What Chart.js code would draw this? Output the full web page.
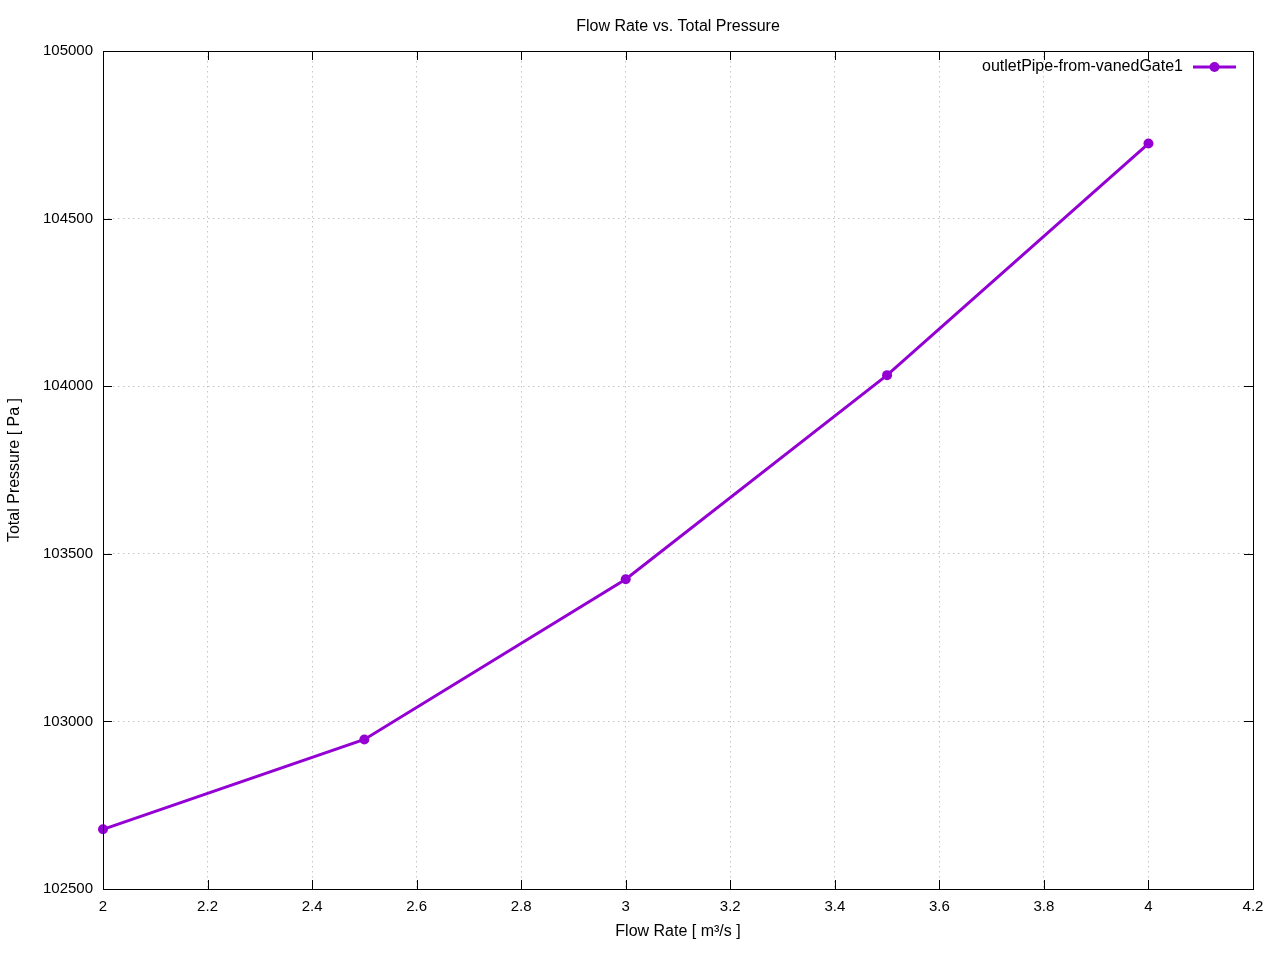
<!DOCTYPE html>
<html>
<head>
<meta charset="utf-8">
<title>Flow Rate vs. Total Pressure</title>
<script src="https://cdn.jsdelivr.net/npm/chart.js@4.4.1/dist/chart.umd.min.js"></script>
<style>
    html, body { margin: 0; padding: 0; background: #fff; }
    #wrap { width: 1280px; height: 960px; }
</style>
</head>
<body>
<div id="wrap"><canvas id="chart" width="1280" height="960"></canvas></div>
<script>
// Data
const flowRates = [2, 2.5, 3, 3.5, 4];
const totalPressure = [102678, 102946, 103424, 104033, 104724];
const seriesName = 'outletPipe-from-vanedGate1';

// Tick positions
const xTicks = [2, 2.2, 2.4, 2.6, 2.8, 3, 3.2, 3.4, 3.6, 3.8, 4, 4.2];
const yTicks = [102500, 103000, 103500, 104000, 104500, 105000];

const lineColor = '#9400d3';
const fontFamily = "'Liberation Sans', Arial, sans-serif";

// gnuplot-like frame: full border plus inward ticks on all four sides, and legend inside
const framePlugin = {
    id: 'frame',
    afterDraw(chart) {
        const { ctx, chartArea: a, scales } = chart;
        const tl = 9;
        ctx.save();
        ctx.strokeStyle = '#000';
        ctx.lineWidth = 1;
        ctx.beginPath();
        scales.x.ticks.forEach(t => {
            const px = Math.round(scales.x.getPixelForValue(t.value)) + 0.5;
            ctx.moveTo(px, a.bottom); ctx.lineTo(px, a.bottom - tl);
            ctx.moveTo(px, a.top); ctx.lineTo(px, a.top + tl);
        });
        scales.y.ticks.forEach(t => {
            const py = Math.round(scales.y.getPixelForValue(t.value)) + 0.5;
            ctx.moveTo(a.left, py); ctx.lineTo(a.left + tl, py);
            ctx.moveTo(a.right, py); ctx.lineTo(a.right - tl, py);
        });
        ctx.stroke();
        ctx.strokeRect(Math.round(a.left) + 0.5, Math.round(a.top) + 0.5,
            Math.round(a.right - a.left), Math.round(a.bottom - a.top));

        // legend
        const ly = a.top + 16;
        const lx1 = a.right - 60, lx2 = a.right - 17;
        ctx.font = '16px ' + fontFamily;
        ctx.fillStyle = '#000';
        ctx.textAlign = 'right';
        ctx.textBaseline = 'middle';
        ctx.fillText(seriesName, lx1 - 10, ly);
        ctx.strokeStyle = lineColor;
        ctx.lineWidth = 3;
        ctx.beginPath();
        ctx.moveTo(lx1, ly); ctx.lineTo(lx2, ly);
        ctx.stroke();
        ctx.fillStyle = lineColor;
        ctx.beginPath();
        ctx.arc((lx1 + lx2) / 2, ly, 5, 0, Math.PI * 2);
        ctx.fill();
        ctx.restore();
    }
};

const ctx = document.getElementById('chart').getContext('2d');

new Chart(ctx, {
    type: 'scatter',
    data: {
        datasets: [{
            label: seriesName,
            data: flowRates.map((x, i) => ({ x: x, y: totalPressure[i] })),
            showLine: true,
            clip: false,
            borderColor: lineColor,
            backgroundColor: lineColor,
            borderWidth: 3,
            pointRadius: 5,
            pointBorderWidth: 0,
            tension: 0
        }]
    },
    options: {
        responsive: false,
        animation: false,
        layout: { padding: { left: 0, right: 27, top: 0, bottom: 0 } },
        plugins: {
            legend: { display: false },
            tooltip: { enabled: false },
            title: {
                display: true,
                fullSize: false,
                text: 'Flow Rate vs. Total Pressure',
                color: '#000',
                font: { family: fontFamily, size: 16, weight: 'normal' },
                padding: { top: 17, bottom: 14.8 }
            }
        },
        scales: {
            x: {
                type: 'linear',
                min: 2,
                max: 4.2,
                afterFit(scale) { scale.height = 71; },
                afterBuildTicks(scale) { scale.ticks = xTicks.map(v => ({ value: v })); },
                ticks: {
                    color: '#000',
                    padding: 9,
                    maxRotation: 0,
                    autoSkip: false,
                    font: { family: fontFamily, size: 15 },
                    callback: v => String(v)
                },
                grid: {
                    color: 'rgba(150,150,150,0.55)',
                    lineWidth: 1,
                    drawTicks: false
                },
                border: { display: false, dash: [1.5, 3.5] },
                title: {
                    display: true,
                    text: 'Flow Rate [ m³/s ]',
                    color: '#000',
                    font: { family: fontFamily, size: 16 },
                    padding: { top: 0, bottom: 18.4 }
                }
            },
            y: {
                type: 'linear',
                min: 102500,
                max: 105000,
                afterFit(scale) { scale.width = 103; },
                afterBuildTicks(scale) { scale.ticks = yTicks.map(v => ({ value: v })); },
                ticks: {
                    color: '#000',
                    padding: 10,
                    autoSkip: false,
                    font: { family: fontFamily, size: 15 },
                    callback: v => String(v)
                },
                grid: {
                    color: 'rgba(150,150,150,0.55)',
                    lineWidth: 1,
                    drawTicks: false
                },
                border: { display: false, dash: [1.5, 3.5] },
                title: {
                    display: true,
                    text: 'Total Pressure [ Pa ]',
                    color: '#000',
                    font: { family: fontFamily, size: 16 },
                    padding: { top: 5.4, bottom: 0 }
                }
            }
        }
    },
    plugins: [framePlugin]
});
</script>
</body>
</html>
